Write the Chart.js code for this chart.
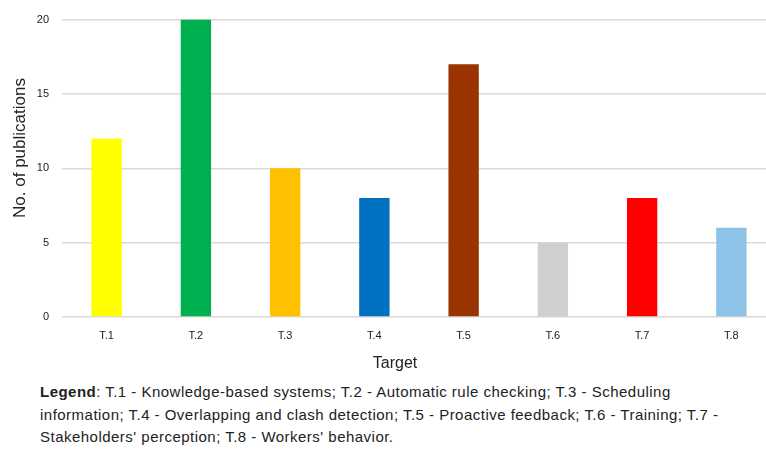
<!DOCTYPE html>
<html>
<head>
<meta charset="utf-8">
<script src="https://cdn.jsdelivr.net/npm/chart.js@4/dist/chart.umd.min.js"></script>
<style>
  html, body { margin: 0; padding: 0; background: #fff; overflow: hidden; }
  #wrap { position: relative; width: 776px; height: 376px; }
  #legend {
    position: absolute; left: 40px; top: 381px; width: 700px;
    font-family: "Liberation Sans", Arial, sans-serif; font-size: 15px;
    letter-spacing: 0.48px; line-height: 22.5px; color: #222;
  }
</style>
</head>
<body>
<div id="wrap"><canvas id="chart"></canvas></div>
<div id="legend"><b>Legend</b>: T.1 - Knowledge-based systems; T.2 - Automatic rule checking; T.3 - Scheduling information; T.4 - Overlapping and clash detection; T.5 - Proactive feedback; T.6 - Training; T.7 - Stakeholders' perception; T.8 - Workers' behavior.</div>
<script>
// categories and values
const targets = ['T.1', 'T.2', 'T.3', 'T.4', 'T.5', 'T.6', 'T.7', 'T.8'];
const publications = [12, 20, 10, 8, 17, 5, 8, 6];
const barColors = ['#ffff00', '#00b050', '#ffc000', '#0070c0', '#993300', '#d0cece', '#ff0000', '#8dc3e6'];
const yTicks = [0, 5, 10, 15, 20];
const yTitle = 'No. of publications';
const xTitle = 'Target';

const font = "'Liberation Sans', Arial, sans-serif";

// axis titles drawn by hand, in the original they are not centred on the plot
const titlesPlugin = {
    id: 'axisTitles',
    afterDraw(chart) {
        const c = chart.ctx;
        c.save();
        c.fillStyle = '#222';
        c.textAlign = 'center';
        c.textBaseline = 'middle';
        c.font = "16px " + font;
        c.fillText(xTitle, 395, 364);
        c.translate(20, 148);
        c.rotate(-Math.PI / 2);
        c.font = "17px " + font;
        c.fillText(yTitle, 0, 0);
        c.restore();
    }
};

const ctx = document.getElementById('chart').getContext('2d');
const chart = new Chart(ctx, {
    type: 'bar',
    data: {
        labels: targets,
        datasets: [{
            label: yTitle,
            data: publications,
            backgroundColor: barColors,
            borderWidth: 0,
            barPercentage: 0.34,
            categoryPercentage: 1
        }]
    },
    options: {
        responsive: true,
        maintainAspectRatio: false,
        animation: false,
        layout: { padding: { top: 13, right: 0, bottom: 0, left: 0 } },
        plugins: { legend: { display: false }, tooltip: { enabled: false } },
        scales: {
            x: {
                afterFit: s => { s.height = 59; },
                grid: { display: false },
                border: { display: false },
                ticks: { color: '#222', font: { family: font, size: 11 }, padding: 4 }
            },
            y: {
                min: 0,
                max: 20,
                afterBuildTicks: s => { s.ticks = yTicks.map(v => ({ value: v })); },
                afterFit: s => { s.width = 62; },
                grid: { color: '#d9d9d9', lineWidth: 1.5, drawTicks: false },
                border: { display: false },
                ticks: { color: '#222', font: { family: font, size: 11 }, padding: 13 }
            }
        }
    },
    plugins: [titlesPlugin]
});
</script>
</body>
</html>
